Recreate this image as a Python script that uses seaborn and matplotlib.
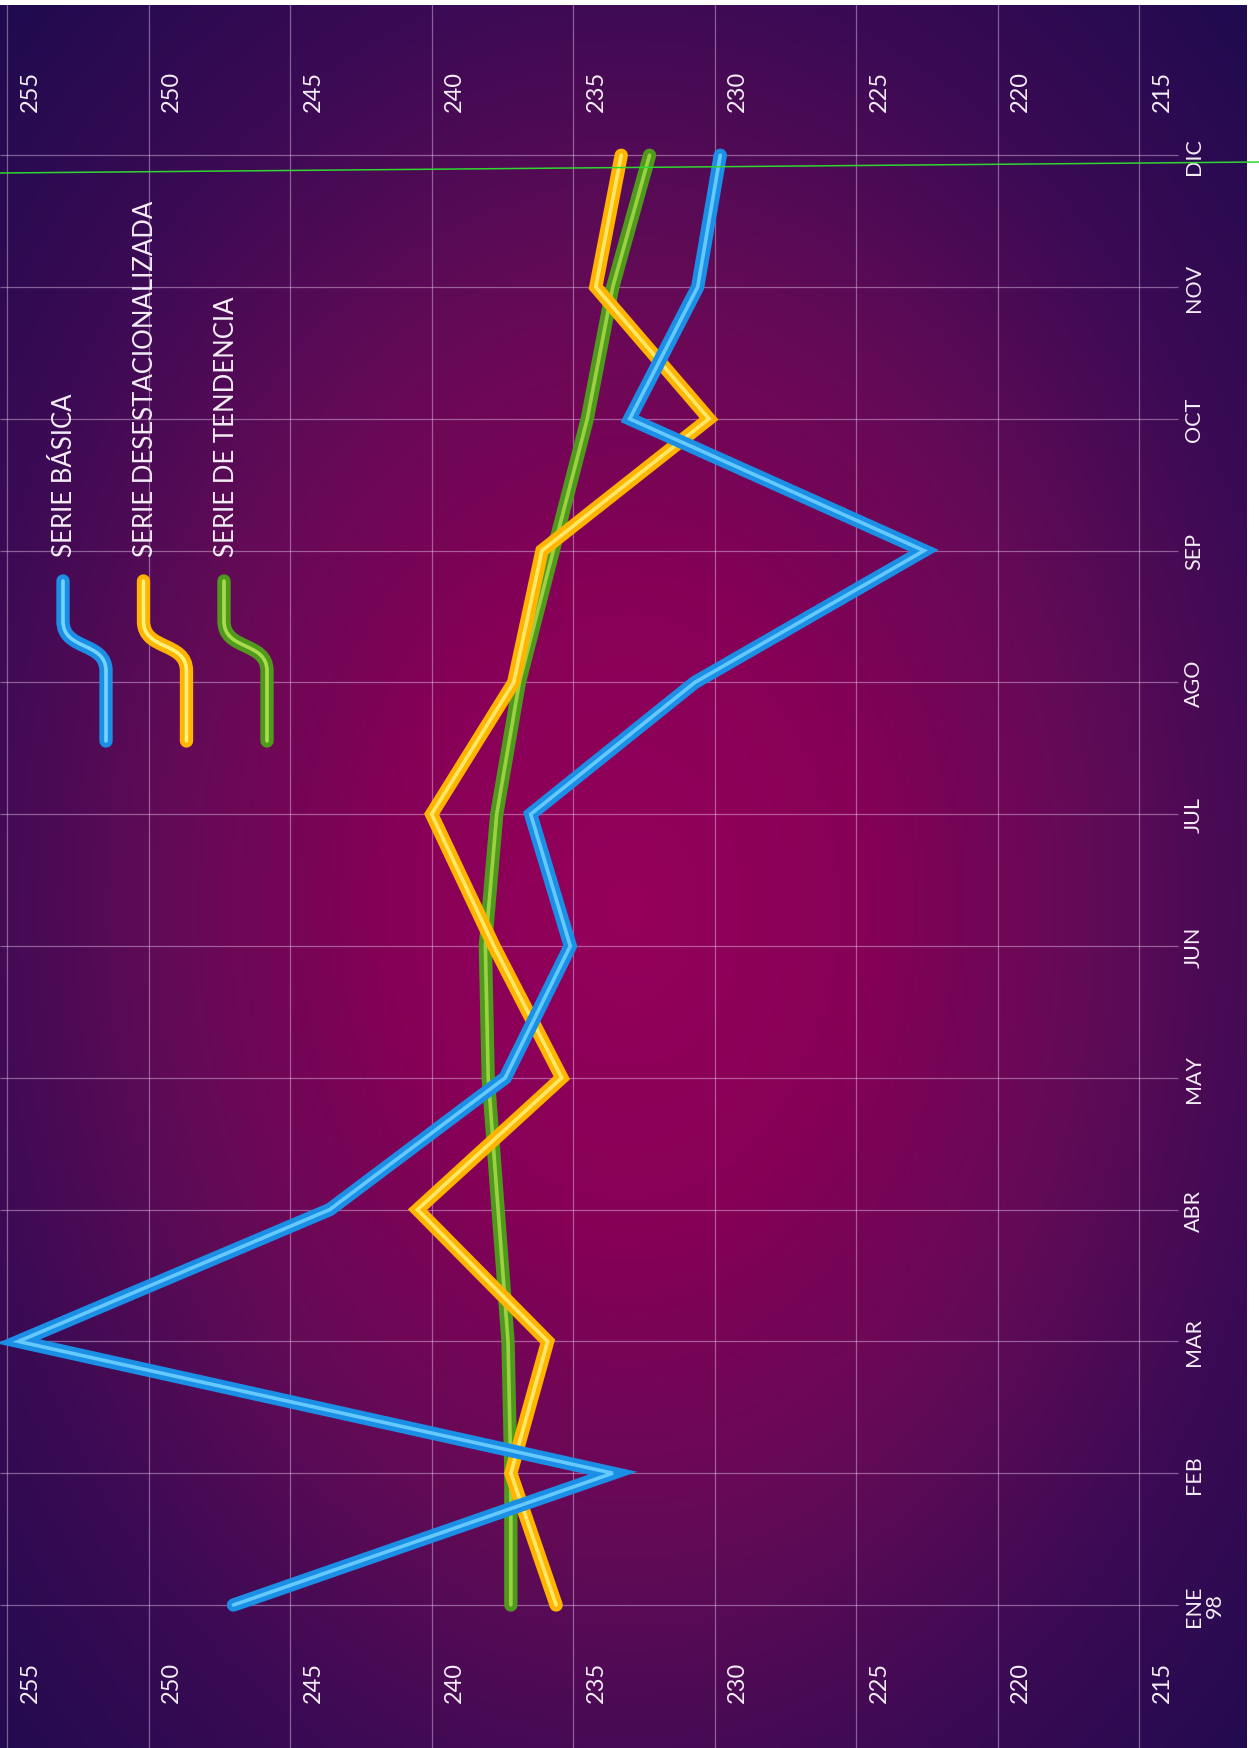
import numpy as np
import pandas as pd
import matplotlib
matplotlib.use("Agg")
import matplotlib.pyplot as plt
import matplotlib.transforms as mtransforms
import seaborn as sns
from matplotlib.colors import LinearSegmentedColormap
from matplotlib.path import Path
from matplotlib.patches import PathPatch
from matplotlib.lines import Line2D

# datos (indice mensual)
meses = ["ENE\n98", "FEB", "MAR", "ABR", "MAY", "JUN", "JUL", "AGO", "SEP", "OCT", "NOV", "DIC"]
serie_basica = [247.0, 233.6, 254.6, 243.6, 237.4, 235.1, 236.5, 230.7, 222.6, 233.0, 230.6, 229.8]
serie_desest = [235.6, 237.2, 235.9, 240.5, 235.4, 237.8, 240.0, 237.1, 236.1, 230.2, 234.2, 233.3]
serie_tend = [237.2, 237.2, 237.3, 237.65, 238.0, 238.1, 237.7, 236.9, 235.7, 234.5, 233.6, 232.3]
valores_eje = [255, 250, 245, 240, 235, 230, 225, 220, 215]

nombres = ["SERIE BÁSICA", "SERIE DESESTACIONALIZADA", "SERIE DE TENDENCIA"]
colores = ["#1b8fe6", "#ffb400", "#4f9a1c"]
brillos = ["#74d4ff", "#fff27a", "#aadb4c"]

df = pd.DataFrame({
    "mes": list(range(len(meses))) * 3,
    "valor": serie_basica + serie_desest + serie_tend,
    "serie": np.repeat(nombres, len(meses)),
})

W, H = 1259, 1749
sns.set_theme(style="white")
plt.rcParams["font.family"] = ["Lato", "DejaVu Sans"]

fig = plt.figure(figsize=(W / 100, H / 100), dpi=100, facecolor="white")
pos = [0, 0, 1247 / W, (H - 6) / H]

# fondo: degradado radial magenta -> azul oscuro
bg = fig.add_axes(pos, zorder=-1)
ny, nx = 400, 300
yy, xx = np.mgrid[0:ny, 0:nx]
px = xx / nx * 1247
py = yy / ny * 1743
r = np.sqrt(((px - 625) / 720) ** 2 + ((py - 900) / 1000) ** 2)
fondo = LinearSegmentedColormap.from_list(
    "fondo",
    [(0.0, "#95005b"), (0.25, "#870057"), (0.5, "#640a56"),
     (0.75, "#3a0a54"), (1.0, "#1f0a4f")],
)
bg.imshow(np.clip(r / 1.3, 0, 1), cmap=fondo, aspect="auto", extent=[0, 1, 0, 1], origin="upper")
bg.axis("off")

ax = fig.add_axes(pos)
ax.patch.set_alpha(0)
ax.set_xlim(255.25, 211.19)
ax.set_ylim(-1.085, 12.14)

# rejilla
for v in valores_eje:
    ax.axvline(v, color="#e6c8ee", alpha=0.45, lw=0.9, zorder=1)
for i in range(len(meses)):
    ax.hlines(i, 255.25, 213.63, color="#e6c8ee", alpha=0.45, lw=0.9, zorder=1)

# series (de abajo hacia arriba: tendencia, desestacionalizada, basica)
for k in [2, 1, 0]:
    sub = df[df["serie"] == nombres[k]]
    sns.lineplot(data=sub, x="valor", y="mes", orient="y", sort=True, color=colores[k],
                 lw=9.6, errorbar=None, legend=False, ax=ax, zorder=3 + 2 * (2 - k),
                 solid_capstyle="round", solid_joinstyle="miter")
    sns.lineplot(data=sub, x="valor", y="mes", orient="y", sort=True, color=brillos[k],
                 lw=2.6, alpha=0.85, errorbar=None, legend=False, ax=ax, zorder=4 + 2 * (2 - k),
                 solid_capstyle="round", solid_joinstyle="miter")

# etiquetas del eje de valores, arriba y abajo
trans_v = mtransforms.offset_copy(ax.get_xaxis_transform(), fig=fig, x=23, y=0, units="dots")
for v in valores_eje:
    for yf in [0.951, 0.0384]:
        ax.text(v, yf, str(v), transform=trans_v, rotation=90, ha="center", va="center",
                color="#f4ecf6", fontsize=17)

# etiquetas de los meses
trans_m = ax.get_yaxis_transform()
for i, m in enumerate(meses):
    ax.text(0.9495, i, m, transform=trans_m, rotation=90, ha="left", va="center",
            color="#f4ecf6", fontsize=15.5, linespacing=1.05, multialignment="center")

# leyenda con trazos en "S"
for k in range(3):
    dx = 80.5 * k
    pts = [(63 + dx, 582), (63 + dx, 622), (63 + dx, 652), (106 + dx, 642),
           (106 + dx, 672), (106 + dx, 742)]
    verts = [(p[0] / W, 1 - p[1] / H) for p in pts]
    codes = [Path.MOVETO, Path.LINETO, Path.CURVE4, Path.CURVE4, Path.CURVE4, Path.LINETO]
    for c, w in [(colores[k], 9.6), (brillos[k], 2.6)]:
        ax.add_patch(PathPatch(Path(verts, codes), fill=False, edgecolor=c, lw=w,
                               capstyle="round", joinstyle="round",
                               transform=fig.transFigure, zorder=10))
    fig.text((65 + dx) / W, 1 - 557 / H, nombres[k], rotation=90, ha="center", va="bottom",
             color="#f4ecf6", fontsize=18.5)

# linea verde del escaneo original
fig.add_artist(Line2D([0, 1], [1 - 174 / H, 1 - 163 / H], transform=fig.transFigure,
                      color="#2fd62f", lw=1.1))

ax.set_xticks([])
ax.set_yticks([])
for s in ax.spines.values():
    s.set_visible(False)
ax.set_xlabel("")
ax.set_ylabel("")

fig.savefig("out.png", dpi=100, facecolor="white")
